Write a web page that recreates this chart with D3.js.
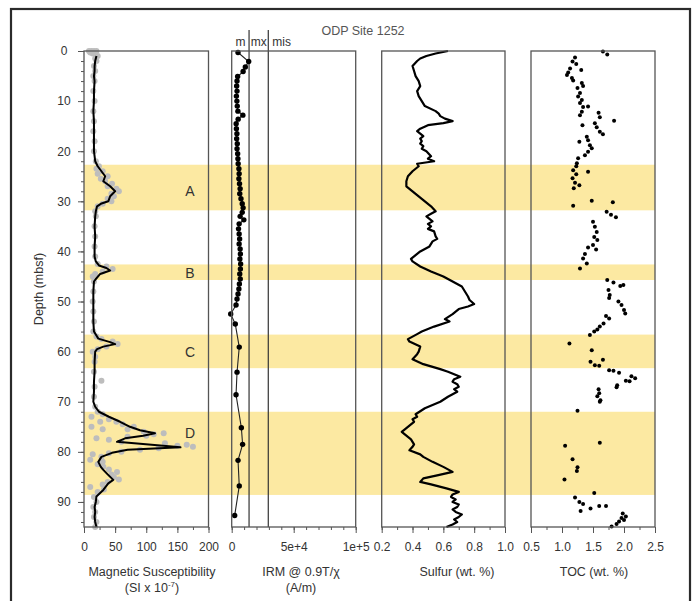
<!DOCTYPE html>
<html>
<head>
<meta charset="utf-8">
<script src="https://cdn.jsdelivr.net/npm/d3@7"></script>
<style>
  body { margin: 0; background: #fff; }
  svg { display: block; font-family: "Liberation Sans", Arial, sans-serif; }
</style>
</head>
<body>
<svg id="chart" width="697" height="601"></svg>
<script>
// ---- Data ----
const zoneNames = ["A", "B", "C", "D"];
const zoneTop = [22.7, 42.6, 56.6, 72.0];
const zoneBottom = [31.8, 45.7, 63.3, 88.6];
const zoneLabelDepth = [28, 44.3, 60, 76.3];

// magnetic susceptibility, smoothed curve [depth, SI x 1e-7]
const magSmooth = [[1,20],[2,18],[3,17],[4,17],[5,16],[6,17],[8,16],[10,16],[12,15],[14,16],[16,16],[18,16],[20,16],[21,17],[22,18],[23,22],[24,28],[25,34],[26,31],[27,42],[28,50],[28.5,46],[29,42],[30,39],[30.5,27],[31,21],[32,19],[33,18],[35,17],[37,18],[39,17],[41,17],[42,19],[42.8,24],[43.3,36],[43.8,42],[44.5,26],[45.5,19],[46,16],[48,15],[50,15],[52,15],[54,15],[56,16],[57.4,23],[58.1,42],[58.5,50],[59,31],[59.5,21],[60,18],[62,17],[64,17],[66,16],[68,16],[70,15],[71,18],[72,24],[73,40],[74,58],[75,74],[75.7,90],[76.3,114],[76.8,95],[77.3,66],[78,53],[79.1,155],[79.6,70],[80.2,45],[81,28],[82,23],[83,27],[83.6,31],[84.5,38],[85.6,47],[86.3,39],[87.6,31],[88.9,20],[90,19],[91,17],[92,18],[93,17],[94,18],[95,20]];

// magnetic susceptibility, raw measurements [depth, SI x 1e-7]
const magRaw = [[0,8],[0,12],[0,16],[0,20],[0.3,10],[0.3,18],[0.5,14],[1,22],[1.5,18],[2,20],[3,16],[4,18],[5,15],[6,17],[8,15],[10,17],[12,15],[14,16],[16,15],[18,17],[20,16],[22,19],[23,24],[23.5,20],[24,30],[24.5,22],[25,38],[25.5,27],[26,34],[26.5,45],[27,38],[27.5,52],[28,56],[28.5,44],[29,48],[29.5,38],[30,44],[30.5,30],[31,22],[32,18],[33,19],[35,17],[37,18],[39,17],[41,18],[42.5,22],[43,36],[43.5,46],[44,30],[44.5,18],[45,14],[46,16],[48,15],[50,14],[52,15],[54,16],[56,15],[57,20],[57.5,28],[58,46],[58.5,54],[59,36],[59.5,22],[60,14],[61,18],[62,17],[64,16],[65.8,28],[67,17],[69,16],[71,18],[72,22],[72.5,30],[73,12],[73.5,40],[74,26],[74,52],[74.5,62],[75,80],[75,12],[75.5,70],[75.5,30],[76,96],[76.3,128],[76.5,112],[76.8,100],[77,70],[77.3,20],[77.6,40],[78,60],[78.3,130],[78.6,165],[78.8,150],[79,175],[79.3,120],[79.6,90],[80,60],[80.3,40],[80.5,14],[81,28],[81.6,10],[82,30],[82.5,22],[83,31],[83.5,40],[84,53],[84.5,44],[85,48],[85.5,56],[86,38],[86.5,30],[87,10],[87.5,32],[88,22],[89,16],[90,20],[91,15],[92,18],[93,16],[94,20],[95,18]];

// IRM @ 0.9T / chi [depth, A/m]
const irm = [[0.3,5100],[2.1,13700],[3.2,11000],[4.1,9200],[5.1,4800],[6,4300],[7,4000],[8,4300],[9,3800],[10,4200],[11,4500],[12,5000],[12.8,9000],[13.6,5200],[14.5,3600],[15.5,3800],[16.5,4200],[17.5,4000],[18.5,4500],[19.5,4300],[20.5,4800],[21.5,5000],[22.5,5200],[23.5,5800],[24.5,6000],[25.5,5800],[26.5,6300],[27.5,6800],[28.5,6500],[29.5,7500],[30.5,8500],[31.3,9200],[32.2,8500],[33,6800],[33.7,9800],[34.5,6000],[35.5,5500],[36.5,6000],[37.5,6400],[38.5,6000],[39.5,6800],[40.5,7000],[41.5,6600],[42.5,7200],[43.5,7000],[44.5,6500],[45.5,6900],[46.5,6200],[47.5,5800],[48.5,5100],[49.5,4300],[50.7,3500],[52.5,-800],[54.5,2900],[59.1,6100],[64.1,4300],[68.6,3500],[75.2,7800],[78.5,8800],[81.7,5100],[86.8,6100],[92.7,2400]];
const irmMineralNames = ["m", "mx", "mis"];
const irmMineralLimits = [14000, 29500];
const irmTickValues = [0, 50000, 100000];
const irmTickLabels = ["0", "5e+4", "1e+5"];

// sulfur [depth, wt. %]
const sulfur = [[0,0.63],[0.5,0.55],[1,0.49],[1.5,0.45],[2,0.43],[3,0.40],[4,0.41],[5,0.42],[6,0.44],[7,0.45],[8,0.43],[9,0.44],[10,0.46],[11,0.48],[12,0.55],[12.5,0.57],[13,0.58],[13.5,0.61],[14,0.66],[14.4,0.60],[14.8,0.50],[15.5,0.45],[16,0.43],[16.5,0.45],[17,0.47],[17.5,0.45],[18,0.46],[18.5,0.45],[19,0.47],[19.5,0.46],[20,0.49],[21,0.52],[21.5,0.50],[22,0.54],[22.5,0.43],[23,0.44],[23.5,0.42],[24,0.40],[25,0.37],[26,0.36],[27,0.36],[28,0.40],[29,0.44],[29.5,0.46],[30,0.48],[31,0.52],[32,0.55],[32.5,0.52],[33,0.49],[33.5,0.51],[34,0.53],[34.5,0.50],[35,0.52],[35.5,0.50],[36,0.54],[37,0.55],[37.5,0.56],[38,0.53],[39,0.51],[40,0.45],[41,0.41],[41.5,0.39],[42,0.40],[43,0.45],[44,0.52],[44.5,0.56],[45,0.60],[46,0.66],[47,0.72],[48,0.74],[49,0.76],[49.7,0.77],[50.5,0.80],[51,0.76],[51.5,0.70],[52.5,0.66],[53.5,0.61],[54,0.64],[55,0.54],[56,0.46],[56.5,0.43],[57.5,0.37],[58,0.38],[59,0.45],[60,0.44],[60.5,0.43],[61.5,0.40],[62.5,0.47],[63.5,0.58],[64,0.63],[65,0.71],[65.5,0.67],[66,0.66],[66.5,0.69],[67,0.70],[67.5,0.67],[68,0.69],[69,0.63],[70,0.58],[71.3,0.48],[72.5,0.42],[73,0.43],[73.5,0.40],[74,0.41],[75,0.37],[75.5,0.35],[76,0.33],[77,0.37],[77.5,0.39],[78.5,0.41],[79,0.40],[79.7,0.38],[80.5,0.45],[81,0.47],[82,0.53],[83,0.60],[84,0.66],[84.7,0.56],[85.3,0.47],[86,0.45],[86.5,0.52],[87.3,0.62],[88,0.70],[88.5,0.66],[89,0.65],[89.5,0.68],[90,0.66],[90.5,0.70],[91,0.69],[91.5,0.66],[92,0.68],[92.5,0.72],[93,0.70],[93.5,0.67],[94,0.69],[94.5,0.66],[95,0.62]];

// total organic carbon [depth, wt. %]
const toc = [[0.1,1.66],[0.7,1.73],[1.3,1.21],[2.1,1.17],[2.6,1.23],[3.5,1.13],[3.8,1.31],[4.3,1.10],[4.8,1.08],[5.4,1.16],[5.9,1.18],[6.4,1.32],[7,1.34],[7.4,1.25],[8.4,1.29],[9.1,1.26],[9.8,1.32],[10.4,1.29],[11.1,1.42],[11.2,1.34],[12.1,1.32],[12.3,1.59],[12.8,1.29],[13.2,1.61],[13.9,1.84],[14.4,1.53],[14.8,1.33],[15.2,1.56],[16.1,1.61],[16.6,1.66],[17.1,1.40],[17.8,1.42],[18.1,1.28],[18.8,1.45],[19.4,1.48],[20.1,1.42],[20.8,1.37],[21.4,1.26],[22.4,1.24],[23,1.23],[23.8,1.18],[24.1,1.42],[24.6,1.23],[25.4,1.17],[26.3,1.21],[26.8,1.28],[27.4,1.19],[29.9,1.48],[30.2,1.82],[30.9,1.18],[32.1,1.72],[32.7,1.79],[33.2,1.87],[34.1,1.50],[35.1,1.53],[36.1,1.56],[37.1,1.52],[37.7,1.57],[38.7,1.50],[39.2,1.42],[39.6,1.55],[40.5,1.37],[41.4,1.34],[42.4,1.40],[43.4,1.29],[45.7,1.73],[46.2,1.83],[46.7,1.99],[46.9,1.94],[47.7,1.75],[48.7,1.77],[49.3,1.76],[50,1.91],[50.7,1.96],[51.7,2.00],[52.4,2.02],[52.9,1.71],[53.4,1.76],[54.4,1.67],[55,1.61],[55.6,1.57],[56,1.52],[56.7,1.45],[58.4,1.12],[59.7,1.48],[61.6,1.66],[62,1.46],[62.7,1.53],[62.8,1.60],[63.7,1.76],[63.8,1.83],[64.2,1.92],[64.9,2.12],[65.3,2.18],[65.8,2.03],[65.9,2.09],[66.7,1.89],[67.1,1.88],[67.5,1.59],[68.3,1.60],[68.9,1.57],[69.7,1.62],[70,1.61],[71.8,1.25],[78.2,1.61],[78.8,1.05],[81.5,1.17],[83.1,1.25],[83.8,1.24],[85.5,1.04],[88.2,1.52],[89.1,1.21],[90,1.28],[90.4,1.34],[90.8,1.60],[90.8,1.71],[91.3,1.46],[91.8,1.30],[92.3,1.98],[92.9,2.03],[93.2,1.96],[93.6,2.00],[93.9,1.92],[94.4,1.88],[94.9,1.80]];

const depthTicks = [0, 10, 20, 30, 40, 50, 60, 70, 80, 90];

// ---- Layout ----
const plotTop = 51, plotBottom = 527;
const textColor = "#333";
const boxColor = "#555";
const bandColor = "#fce9a2";

const svg = d3.select("#chart");

const y = d3.scaleLinear().domain([0, 95]).range([plotTop, plotBottom]);

const panels = [
    { key: "mag", x: d3.scaleLinear().domain([0, 200]).range([84, 208.5]),
      major: [0, 50, 100, 150, 200], minor: d3.range(0, 201, 25), fmt: d3.format("d") },
    { key: "irm", x: d3.scaleLinear().domain([0, 100000]).range([231.7, 355.7]),
      major: irmTickValues, minor: d3.range(0, 100001, 10000), fmt: (d, i) => irmTickLabels[i] },
    { key: "sulfur", x: d3.scaleLinear().domain([0.2, 1.0]).range([381.7, 505]),
      major: [0.2, 0.4, 0.6, 0.8, 1.0], minor: d3.range(0.2, 1.001, 0.1), fmt: d3.format(".1f") },
    { key: "toc", x: d3.scaleLinear().domain([0.5, 2.5]).range([531, 655]),
      major: [0.5, 1.0, 1.5, 2.0, 2.5], minor: d3.range(0.5, 2.501, 0.25), fmt: d3.format(".1f") }
];
const P = {};
panels.forEach(p => P[p.key] = p);

// outer frame
svg.append("rect")
    .attr("x", 11).attr("y", 9)
    .attr("width", 679).attr("height", 610)
    .attr("fill", "#fff")
    .attr("stroke", "#2b2b2b")
    .attr("stroke-width", 2.2);

// yellow zones across all panels
const bandLeft = P.mag.x(0), bandRight = P.toc.x(2.5);
svg.append("g").selectAll("rect")
    .data(zoneNames)
    .join("rect")
    .attr("x", bandLeft)
    .attr("width", bandRight - bandLeft)
    .attr("y", (d, i) => y(zoneTop[i]))
    .attr("height", (d, i) => y(zoneBottom[i]) - y(zoneTop[i]))
    .attr("fill", bandColor);

// zone letters
svg.append("g").selectAll("text")
    .data(zoneNames)
    .join("text")
    .attr("x", 190)
    .attr("y", (d, i) => y(zoneLabelDepth[i]))
    .attr("dy", "0.35em")
    .attr("text-anchor", "middle")
    .attr("font-size", 14)
    .attr("fill", textColor)
    .text(d => d);

// title
svg.append("text")
    .attr("x", 363).attr("y", 35)
    .attr("text-anchor", "middle")
    .attr("font-size", 12.5)
    .attr("fill", "#555")
    .text("ODP Site 1252");

// ---- Magnetic susceptibility ----
svg.append("g").selectAll("circle")
    .data(magRaw)
    .join("circle")
    .attr("cx", d => P.mag.x(d[1]))
    .attr("cy", d => y(d[0]))
    .attr("r", 3)
    .attr("fill", "#bdbdbd");

svg.append("path")
    .datum(magSmooth)
    .attr("fill", "none")
    .attr("stroke", "#000")
    .attr("stroke-width", 2)
    .attr("stroke-linejoin", "round")
    .attr("d", d3.line().x(d => P.mag.x(d[1])).y(d => y(d[0])));

// ---- IRM ----
irmMineralLimits.forEach(v => {
    svg.append("line")
        .attr("x1", P.irm.x(v)).attr("x2", P.irm.x(v))
        .attr("y1", 30).attr("y2", plotBottom)
        .attr("stroke", "#333")
        .attr("stroke-width", 1.2);
});
const irmEdges = [0, ...irmMineralLimits];
svg.append("g").selectAll("text")
    .data(irmMineralNames)
    .join("text")
    .attr("x", (d, i) => i < 2 ? (P.irm.x(irmEdges[i]) + P.irm.x(irmEdges[i + 1])) / 2 : P.irm.x(irmEdges[i]) + 4)
    .attr("y", 46)
    .attr("text-anchor", (d, i) => i < 2 ? "middle" : "start")
    .attr("font-size", 12)
    .attr("fill", textColor)
    .text(d => d);

svg.append("path")
    .datum(irm)
    .attr("fill", "none")
    .attr("stroke", "#222")
    .attr("stroke-width", 1.1)
    .attr("d", d3.line().x(d => P.irm.x(d[1])).y(d => y(d[0])));

svg.append("g").selectAll("circle")
    .data(irm)
    .join("circle")
    .attr("cx", d => P.irm.x(d[1]))
    .attr("cy", d => y(d[0]))
    .attr("r", 2.7)
    .attr("fill", "#000");

// ---- Sulfur ----
svg.append("path")
    .datum(sulfur)
    .attr("fill", "none")
    .attr("stroke", "#000")
    .attr("stroke-width", 2.2)
    .attr("stroke-linejoin", "round")
    .attr("d", d3.line().x(d => P.sulfur.x(d[1])).y(d => y(d[0])));

// ---- TOC ----
svg.append("g").selectAll("circle")
    .data(toc)
    .join("circle")
    .attr("cx", d => P.toc.x(d[1]))
    .attr("cy", d => y(d[0]))
    .attr("r", 2)
    .attr("fill", "#000");

// ---- Panel boxes and x axes ----
panels.forEach(p => {
    const [x0, x1] = p.x.range();
    svg.append("rect")
        .attr("x", x0).attr("y", plotTop)
        .attr("width", x1 - x0).attr("height", plotBottom - plotTop)
        .attr("fill", "none")
        .attr("stroke", boxColor)
        .attr("stroke-width", 1.3);

    const minorAxis = svg.append("g")
        .attr("transform", `translate(0,${plotBottom})`)
        .call(d3.axisBottom(p.x).tickValues(p.minor).tickSize(3).tickFormat(""));
    minorAxis.select(".domain").remove();
    minorAxis.selectAll("line").attr("stroke", boxColor);

    const majorAxis = svg.append("g")
        .attr("transform", `translate(0,${plotBottom})`)
        .call(d3.axisBottom(p.x).tickValues(p.major).tickSize(6).tickPadding(9).tickFormat(p.fmt));
    majorAxis.select(".domain").remove();
    majorAxis.selectAll("line").attr("stroke", boxColor);
    majorAxis.selectAll("text")
        .attr("font-size", 12)
        .attr("font-family", "'Liberation Sans', Arial, sans-serif")
        .attr("fill", textColor);
});

// depth axis
const yMinor = svg.append("g")
    .attr("transform", `translate(${P.mag.x(0)},0)`)
    .call(d3.axisLeft(y).tickValues(d3.range(0, 95, 2)).tickSize(3).tickFormat(""));
yMinor.select(".domain").remove();
yMinor.selectAll("line").attr("stroke", boxColor);

const yMajor = svg.append("g")
    .attr("transform", `translate(${P.mag.x(0)},0)`)
    .call(d3.axisLeft(y).tickValues(depthTicks).tickSize(6).tickPadding(6));
yMajor.select(".domain").remove();
yMajor.selectAll("line").attr("stroke", boxColor);
yMajor.selectAll("text")
    .attr("text-anchor", "middle")
    .attr("x", -20)
    .attr("font-size", 12)
    .attr("font-family", "'Liberation Sans', Arial, sans-serif")
    .attr("fill", textColor);

svg.append("text")
    .attr("transform", `translate(43,${(plotTop + plotBottom) / 2}) rotate(-90)`)
    .attr("text-anchor", "middle")
    .attr("font-size", 12.5)
    .attr("fill", textColor)
    .text("Depth (mbsf)");

// ---- Axis titles ----
function axisTitle(cx, lines) {
    lines.forEach((line, i) => {
        const t = svg.append("text")
            .attr("x", cx).attr("y", 576 + i * 16)
            .attr("text-anchor", "middle")
            .attr("font-size", 12.5)
            .attr("fill", textColor);
        line.forEach(part => {
            t.append("tspan")
                .attr("font-size", part.sup ? 8 : null)
                .attr("dy", part.sup ? -5 : (part.after ? 5 : null))
                .text(part.text);
        });
    });
}
axisTitle(152, [[{ text: "Magnetic Susceptibility" }], [{ text: "(SI x 10" }, { text: "-7", sup: true }, { text: ")", after: true }]]);
axisTitle(301, [[{ text: "IRM @ 0.9T/χ" }], [{ text: "(A/m)" }]]);
axisTitle(457, [[{ text: "Sulfur (wt. %)" }]]);
axisTitle(594, [[{ text: "TOC (wt. %)" }]]);
</script>
</body>
</html>
